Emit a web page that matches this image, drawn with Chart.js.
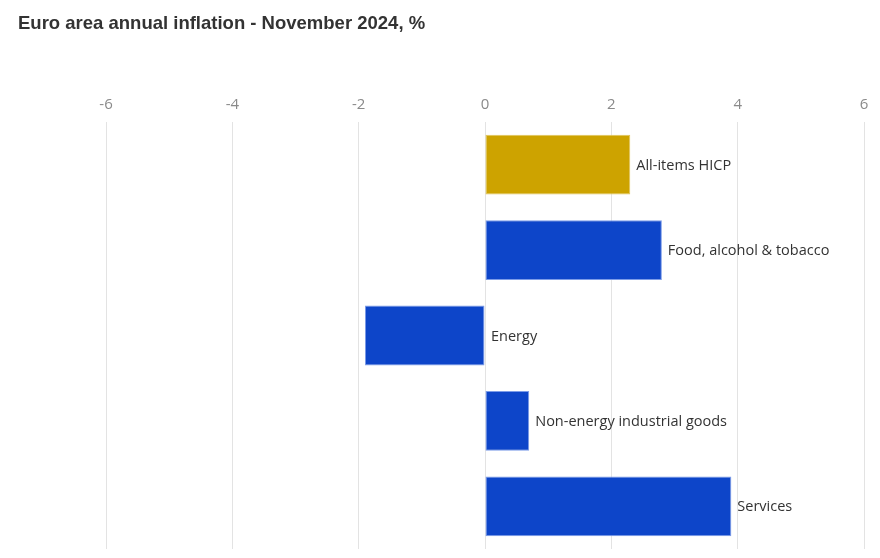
<!DOCTYPE html>
<html>
<head>
<meta charset="utf-8">
<script src="https://cdn.jsdelivr.net/npm/chart.js@4"></script>
<style>
	html, body { margin: 0; padding: 0; background: #fff; }
	#wrap { position: relative; width: 880px; height: 558px; }
	#title {
		position: absolute; left: 18px; top: 12px;
		font: bold 18.5px 'Liberation Sans', Arial, sans-serif;
		color: #333;
	}
</style>
</head>
<body>
<div id="wrap">
	<div id="title">Euro area annual inflation - November 2024, %</div>
	<canvas id="chart" width="880" height="558"></canvas>
</div>
<script>
const categories = [
	'All-items HICP',
	'Food, alcohol & tobacco',
	'Energy',
	'Non-energy industrial goods',
	'Services',
];
const inflation = [2.3, 2.8, -1.9, 0.7, 3.9];
const xTicks = [-6, -4, -2, 0, 2, 4, 6];

const barColors = ['#cda300', '#0d45c9', '#0d45c9', '#0d45c9', '#0d45c9'];
const barBorders = ['#e0c45a', '#7c9ce8', '#7c9ce8', '#7c9ce8', '#7c9ce8'];

// labels sit right of the bar end, or right of zero for negative bars
const barLabels = {
	id: 'barLabels',
	afterDatasetsDraw(chart) {
		const ctx = chart.ctx;
		const xScale = chart.scales.x;
		const zeroX = xScale.getPixelForValue(0);
		const meta = chart.getDatasetMeta(0);
		ctx.save();
		ctx.font = '14.5px "Open Sans", sans-serif';
		ctx.fillStyle = '#333';
		ctx.textBaseline = 'middle';
		ctx.textAlign = 'left';
		meta.data.forEach((bar, i) => {
			const x = Math.max(bar.x, zeroX) + 6;
			ctx.fillText(categories[i], x, bar.y + 1);
		});
		ctx.restore();
	},
};

new Chart(document.getElementById('chart'), {
	type: 'bar',
	data: {
		labels: categories,
		datasets: [{
			data: inflation,
			backgroundColor: barColors,
			borderColor: barBorders,
			borderWidth: 1,
			borderSkipped: false,
			barPercentage: 0.7,
			categoryPercentage: 1,
		}],
	},
	options: {
		indexAxis: 'y',
		responsive: false,
		animation: false,
		layout: {
			padding: { left: 106, right: 16, top: 88, bottom: 9 },
		},
		plugins: {
			legend: { display: false },
			tooltip: { enabled: false },
			title: { display: false },
		},
		scales: {
			x: {
				position: 'top',
				min: -6,
				max: 6,
				afterBuildTicks: (axis) => {
					axis.ticks = xTicks.map((v) => ({ value: v }));
				},
				border: { display: false },
				grid: { color: '#e3e3e3', drawTicks: false },
				ticks: {
					color: '#8a8a8a',
					padding: 8,
					font: { family: '"Open Sans", sans-serif', size: 15 },
				},
			},
			y: {
				display: false,
			},
		},
	},
	plugins: [barLabels],
});
</script>
</body>
</html>
